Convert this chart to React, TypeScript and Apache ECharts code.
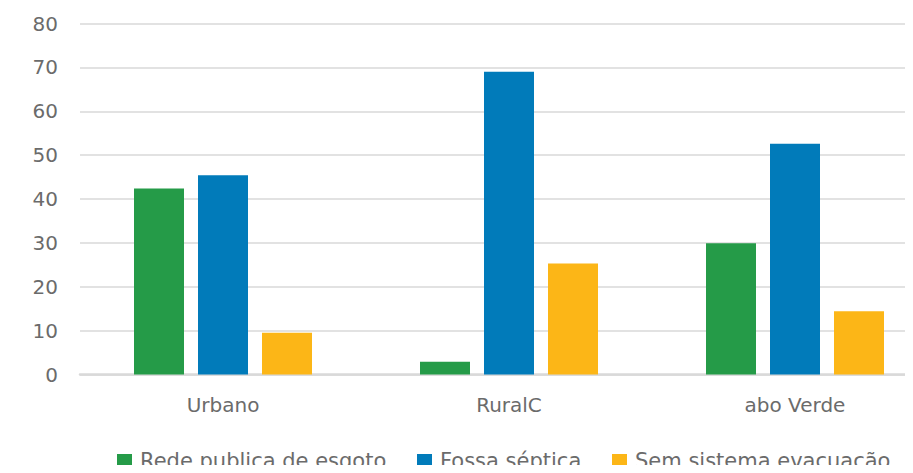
import React, { useEffect, useRef } from "react";
import * as echarts from "echarts";

const categories = ["Urbano", "RuralC", "abo Verde"];
const seriesNames = ["Rede publica de esgoto", "Fossa séptica", "Sem sistema evacuação"];
const redePublica = [42.4, 2.9, 29.9];
const fossaSeptica = [45.4, 69, 52.6];
const semSistema = [9.5, 25.3, 14.4];
const yTicks = [0, 10, 20, 30, 40, 50, 60, 70, 80];
const colors = ["#259b48", "#017bba", "#fcb617"];

const FONT = "'DejaVu Sans', sans-serif";
const GRAY = "#6b6b6b";
const legendLefts = [117, 417, 612];

export default function App() {
  const ref = useRef<HTMLDivElement>(null);
  useEffect(() => {
    if (!ref.current) return;
    const chart = echarts.init(ref.current, undefined, { renderer: "svg" });
    const values = [redePublica, fossaSeptica, semSistema];
    chart.setOption({
      animation: false,
      grid: { left: 80, top: 23.5, width: 858, height: 351, containLabel: false },
      xAxis: {
        type: "category",
        data: categories,
        axisTick: { show: false },
        axisLine: { show: true, lineStyle: { color: "#d9d9d9", width: 2.5 } },
        axisLabel: { color: GRAY, fontFamily: FONT, fontSize: 20, margin: 20 },
      },
      yAxis: {
        type: "value",
        min: yTicks[0],
        max: yTicks[yTicks.length - 1],
        interval: 10,
        axisLine: { show: false },
        axisTick: { show: false },
        splitLine: { lineStyle: { color: "#d9d9d9", width: 1.5 } },
        axisLabel: { color: GRAY, fontFamily: FONT, fontSize: 20, margin: 22 },
      },
      legend: seriesNames.map((name, i) => ({
        left: legendLefts[i],
        top: 450,
        padding: 0,
        itemWidth: 15,
        itemHeight: 14,
        icon: "rect",
        textStyle: {
          color: GRAY,
          fontFamily: FONT,
          fontSize: 21,
          lineHeight: 22,
          padding: [0, 0, 0, 3],
        },
        data: [name],
      })),
      series: seriesNames.map((name, i) => ({
        name,
        type: "bar",
        data: values[i],
        barWidth: 50,
        barGap: "28%",
        itemStyle: { color: colors[i] },
      })),
    });
    return () => chart.dispose();
  }, []);
  return (
    <div style={{ width: 913, height: 473, overflow: "hidden", margin: -8, position: "relative" }}>
      <div ref={ref} style={{ width: 950, height: 473 }} />
    </div>
  );
}
